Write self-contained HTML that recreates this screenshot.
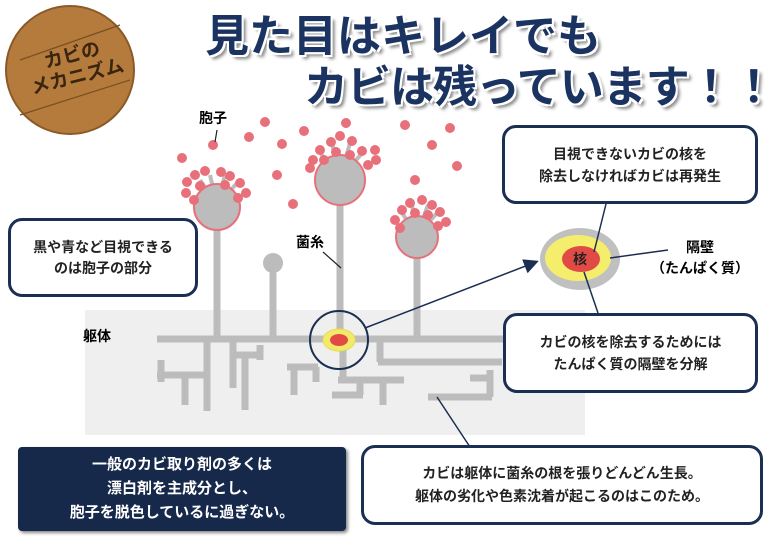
<!DOCTYPE html>
<html><head><meta charset="utf-8"><style>
body{margin:0;width:776px;height:546px;overflow:hidden;background:#fff;font-family:"Liberation Sans","Noto Sans CJK JP",sans-serif;}
.t{position:absolute;font-weight:bold;white-space:nowrap;}
.box{position:absolute;border:3px solid #1b2f52;border-radius:14px;background:#fff;box-sizing:border-box;display:flex;align-items:center;justify-content:center;text-align:center;font-weight:bold;color:#222;}
.ttl{font-size:44px;line-height:50px;color:#1b3360;text-shadow:2px 2px 0 #fff,-2px -2px 0 #fff,2px -2px 0 #fff,-2px 2px 0 #fff,4px 4px 3px #888;}
</style></head><body>
<svg width="776" height="546" style="position:absolute;left:0;top:0">
<defs><marker id="ar" markerWidth="10" markerHeight="10" refX="8" refY="5" orient="auto"><path d="M0,0 L10,5 L0,10 z" fill="#1b2f52"/></marker></defs>
<rect x="85" y="310" width="500" height="125" fill="#efefef"/>
<circle cx="70" cy="70" r="64" fill="#b57b3c" stroke="#8a5a28" stroke-width="2"/>
<line x1="20" y1="60" x2="120" y2="25" stroke="#7a4f22" stroke-width="1.2"/>
<line x1="20" y1="115" x2="130" y2="80" stroke="#7a4f22" stroke-width="1.2"/>
<g stroke="#bcbcbc" stroke-width="7" fill="none">
<line x1="217" y1="220" x2="217" y2="339"/><line x1="273" y1="263" x2="273" y2="339"/>
<line x1="340" y1="190" x2="340" y2="339"/><line x1="417" y1="245" x2="417" y2="339"/>
<line x1="157" y1="339" x2="503" y2="339"/>
<line x1="207" y1="339" x2="207" y2="411"/><line x1="157" y1="375" x2="207" y2="375"/>
<line x1="161" y1="360" x2="161" y2="382"/><line x1="185" y1="375" x2="185" y2="405"/>
<line x1="233" y1="339" x2="233" y2="388"/><line x1="233" y1="355" x2="262" y2="355"/>
<line x1="260" y1="345" x2="260" y2="360"/><line x1="245" y1="355" x2="245" y2="410"/>
<line x1="287" y1="367" x2="318" y2="367"/><line x1="294" y1="367" x2="294" y2="395"/><line x1="316" y1="367" x2="316" y2="382"/>
<line x1="343" y1="339" x2="343" y2="380"/><line x1="338" y1="380" x2="404" y2="380"/>
<line x1="378" y1="362" x2="502" y2="362"/><line x1="380" y1="339" x2="380" y2="362"/>
<line x1="332" y1="395" x2="363" y2="395"/><line x1="360" y1="380" x2="360" y2="395"/><line x1="383" y1="380" x2="383" y2="405"/>
<line x1="428" y1="397" x2="492" y2="397"/><line x1="490" y1="370" x2="490" y2="397"/><line x1="470" y1="378" x2="490" y2="378"/>
</g>
<g fill="#bcbcbc"><circle cx="273" cy="263" r="10"/></g>
<g stroke="#bcbcbc" stroke-width="4">
<line x1="217" y1="205" x2="200" y2="180"/><line x1="217" y1="205" x2="210" y2="175"/><line x1="217" y1="205" x2="225" y2="175"/><line x1="217" y1="205" x2="238" y2="182"/>
<line x1="340" y1="178" x2="318" y2="150"/><line x1="340" y1="178" x2="332" y2="143"/><line x1="340" y1="178" x2="350" y2="143"/><line x1="340" y1="178" x2="365" y2="150"/>
<line x1="417" y1="235" x2="400" y2="210"/><line x1="417" y1="235" x2="412" y2="205"/><line x1="417" y1="235" x2="428" y2="205"/><line x1="417" y1="235" x2="438" y2="212"/>
</g>
<circle cx="217" cy="207" r="23" fill="#bcbcbc" stroke="#e8707a" stroke-width="2"/>
<circle cx="340" cy="180" r="25" fill="#bcbcbc" stroke="#e8707a" stroke-width="2"/>
<circle cx="417" cy="237" r="21" fill="#bcbcbc" stroke="#e8707a" stroke-width="2"/>
<g fill="#e8707a">
<circle cx="213" cy="145" r="5"/><circle cx="182" cy="158" r="5"/><circle cx="249" cy="137" r="5"/><circle cx="265" cy="122" r="5"/><circle cx="282" cy="144" r="5"/><circle cx="277" cy="175" r="5"/><circle cx="293" cy="204" r="5"/><circle cx="304" cy="131" r="5"/><circle cx="346" cy="123" r="5"/><circle cx="405" cy="125" r="5"/><circle cx="450" cy="128" r="5"/><circle cx="432" cy="145" r="5"/><circle cx="457" cy="166" r="5"/><circle cx="415" cy="180" r="5"/>
<circle cx="187" cy="182" r="5"/><circle cx="195" cy="175" r="5"/><circle cx="205" cy="171" r="5"/><circle cx="221" cy="172" r="5"/><circle cx="230" cy="176" r="5"/><circle cx="240" cy="183" r="5"/><circle cx="186" cy="193" r="5"/><circle cx="200" cy="186" r="5"/><circle cx="225" cy="185" r="5"/><circle cx="246" cy="193" r="5"/><circle cx="194" cy="200" r="5"/><circle cx="238" cy="198" r="5"/>
<circle cx="313" cy="160" r="5"/><circle cx="320" cy="150" r="5"/><circle cx="331" cy="142" r="5"/><circle cx="340" cy="136" r="5"/><circle cx="352" cy="141" r="5"/><circle cx="362" cy="151" r="5"/><circle cx="375" cy="150" r="5"/><circle cx="376" cy="160" r="5"/><circle cx="310" cy="168" r="5"/><circle cx="324" cy="160" r="5"/><circle cx="336" cy="152" r="5"/><circle cx="350" cy="155" r="5"/><circle cx="368" cy="165" r="5"/>
<circle cx="395" cy="220" r="5"/><circle cx="402" cy="210" r="5"/><circle cx="410" cy="203" r="5"/><circle cx="422" cy="200" r="5"/><circle cx="432" cy="205" r="5"/><circle cx="440" cy="212" r="5"/><circle cx="446" cy="222" r="5"/><circle cx="400" cy="228" r="5"/><circle cx="415" cy="213" r="5"/><circle cx="428" cy="215" r="5"/><circle cx="438" cy="226" r="5"/>
</g>
<ellipse cx="339" cy="340" rx="16" ry="11" fill="#f3ea6a" stroke="#e5dc50"/>
<ellipse cx="339" cy="340" rx="9" ry="6" fill="#e24b45"/>
<circle cx="339" cy="340" r="29" fill="none" stroke="#1b2f52" stroke-width="2"/>
<line x1="365" y1="328" x2="536" y2="262" stroke="#1b2f52" stroke-width="1.5" marker-end="url(#ar)"/>
<line x1="437" y1="397" x2="470" y2="447" stroke="#1b2f52" stroke-width="1.5"/>
<ellipse cx="580" cy="259" rx="40" ry="31" fill="#c0c0c0"/>
<ellipse cx="578" cy="258" rx="33" ry="23" fill="#f4ee6c"/>
<ellipse cx="581" cy="259" rx="19" ry="13" fill="#e24b45"/>
<line x1="606" y1="204" x2="594" y2="252" stroke="#1b2f52" stroke-width="1.5"/>
<line x1="584" y1="272" x2="598" y2="313" stroke="#1b2f52" stroke-width="1.5"/>
<line x1="610" y1="258" x2="668" y2="250" stroke="#1b2f52" stroke-width="1.5"/>
<line x1="217" y1="130" x2="215" y2="142" stroke="#222" stroke-width="1.2"/>
<line x1="323" y1="252" x2="341" y2="268" stroke="#222" stroke-width="1.2"/>
</svg>
<div class="t" style="left:20px;top:45px;width:110px;font-size:19px;line-height:22px;color:#3a2510;transform:rotate(-14deg);text-align:center">カビの<br>メカニズム</div>
<div class="t ttl" style="left:205px;top:12px;">見た目はキレイでも</div>
<div class="t ttl" style="left:304px;top:63px;letter-spacing:-1px">カビは残っています！！</div>
<div class="t" style="left:199px;top:108px;font-size:14px">胞子</div>
<div class="t" style="left:296px;top:232px;font-size:14px">菌糸</div>
<div class="t" style="left:83px;top:326px;font-size:14px">躯体</div>
<div class="t" style="left:573px;top:249px;font-size:14px;color:#222">核</div>
<div class="t" style="left:640px;top:237px;width:120px;text-align:center;font-size:14px;line-height:21px">隔壁<br>（たんぱく質）</div>
<div class="box" style="left:8px;top:218px;width:190px;height:79px;font-size:14px;line-height:21px">黒や青など目視できる<br>のは胞子の部分</div>
<div class="box" style="left:502px;top:125px;width:256px;height:79px;font-size:14px;line-height:22px">目視できないカビの核を<br>除去しなければカビは再発生</div>
<div class="box" style="left:503px;top:313px;width:255px;height:80px;font-size:14px;line-height:22px">カビの核を除去するためには<br>たんぱく質の隔壁を分解</div>
<div class="box" style="left:18px;top:447px;width:328px;height:84px;background:#17294a;border-color:#17294a;border-radius:4px;color:#fff;font-size:15px;line-height:24px;box-shadow:2px 2px 3px #888">一般のカビ取り剤の多くは<br>漂白剤を主成分とし、<br>胞子を脱色しているに過ぎない。</div>
<div class="box" style="left:361px;top:445px;width:402px;height:80px;font-size:14px;line-height:23px">カビは躯体に菌糸の根を張りどんどん生長。<br>躯体の劣化や色素沈着が起こるのはこのため。</div>
</body></html>
